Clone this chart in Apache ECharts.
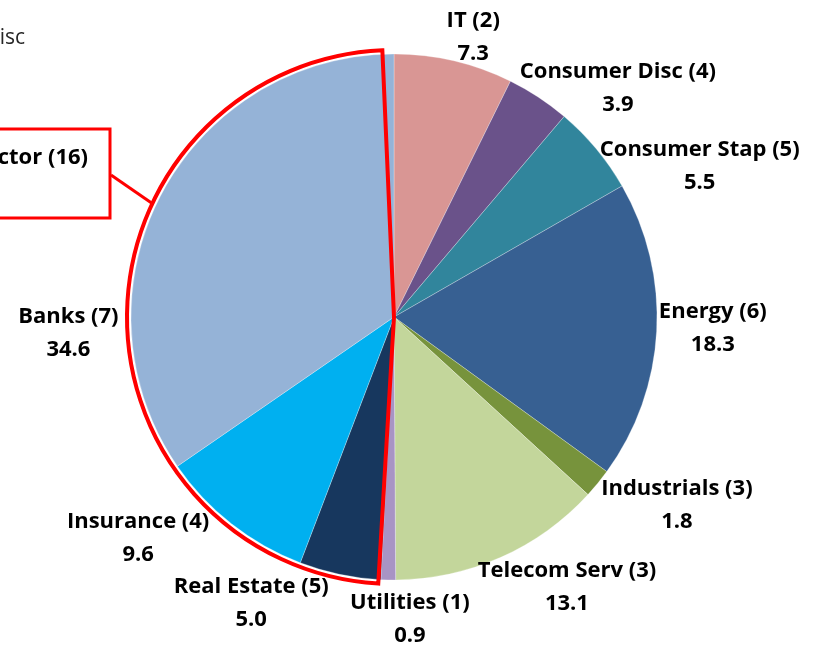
<!DOCTYPE html>
<html lang="en">
<head>
    <meta charset="utf-8">
    <title>Sector weights</title>
    <script src="https://cdn.jsdelivr.net/npm/echarts@6/dist/echarts.min.js"></script>
    <style>
        html, body { margin: 0; padding: 0; background: #fff; }
        #chart { width: 817px; height: 647px; }
    </style>
</head>
<body>
<div id="chart"></div>
<script type="text/javascript">
    // slices, clockwise from 12 o'clock
    var sectors = ['IT', 'Consumer Disc', 'Consumer Stap', 'Energy', 'Industrials',
        'Telecom Serv', 'Utilities', 'Real Estate', 'Insurance', 'Banks'];
    var counts = [2, 4, 5, 6, 3, 3, 1, 5, 4, 7];
    var weights = [7.3, 3.9, 5.5, 18.3, 1.8, 13.1, 0.9, 5.0, 9.6, 34.6];
    var financial = [false, false, false, false, false, false, false, true, true, true];
    var colors = ['#D99694', '#6A528A', '#31859C', '#376092', '#77933C',
        '#C3D69B', '#A894C4', '#17375E', '#00B0F0', '#95B3D7'];

    // where each label sits: [angle from top (deg, clockwise), distance from centre]
    var labelSpots = [[15.8, 291], [44.4, 320], [63.7, 341], [92.0, 319], [123.7, 340],
        [147.4, 321], [177.0, 303], [206.5, 320], [229.2, 338], [267.2, 326]];

    var cx = 394, cy = 317, R = 263;

    var myChart = echarts.init(document.getElementById('chart'), null, { renderer: 'canvas' });

    var finSum = 0, restSum = 0;
    weights.forEach(function (w, i) {
        if (financial[i]) finSum += w; else restSum += w;
    });

    var pieData = sectors.map(function (s, i) {
        return {
            name: s + ' (' + counts[i] + ')',
            value: weights[i],
            itemStyle: { color: colors[i] }
        };
    });

    var labelFont = '"Open Sans", "Noto Sans", sans-serif';

    var option = {
        animation: false,
        backgroundColor: '#fff',
        series: [{
            type: 'pie',
            center: [cx, cy],
            radius: [0, R],
            startAngle: 90,
            clockwise: true,
            silent: true,
            itemStyle: {
                borderColor: 'rgba(255,255,255,0.45)',
                borderWidth: 0.6
            },
            label: {
                show: true,
                position: 'outside',
                fontFamily: labelFont,
                fontWeight: 'bold',
                fontSize: 22,
                lineHeight: 33,
                color: '#000',
                align: 'center',
                width: 300,
                overflow: 'none',
                formatter: function (p) {
                    return p.name + '\n' + p.value.toFixed(1);
                }
            },
            labelLine: { show: false },
            labelLayout: function (params) {
                var s = labelSpots[params.dataIndex];
                var a = s[0] * Math.PI / 180;
                return {
                    x: cx + s[1] * Math.sin(a),
                    y: cy - s[1] * Math.cos(a),
                    align: 'center',
                    verticalAlign: 'middle'
                };
            },
            data: pieData
        }, {
            // red outline round the financial slices
            type: 'pie',
            center: [cx, cy],
            radius: [0, R + 4],
            startAngle: 91,
            padAngle: 3,
            clockwise: true,
            silent: true,
            label: { show: false },
            labelLine: { show: false },
            data: [
                { name: 'Other', value: restSum, itemStyle: { color: 'rgba(0,0,0,0)', borderWidth: 0 } },
                {
                    name: 'Financial Sector (16)', value: finSum,
                    itemStyle: { color: 'rgba(0,0,0,0)', borderColor: '#FF0000', borderWidth: 4, borderJoin: 'miter' }
                }
            ]
        }],
        graphic: [
            {
                type: 'text',
                x: 25, y: 38,
                style: {
                    text: 'Consumer Disc',
                    align: 'right',
                    verticalAlign: 'middle',
                    font: '21px ' + labelFont,
                    fill: '#262626'
                }
            },
            {
                type: 'rect',
                shape: { x: -160, y: 129, width: 270, height: 89 },
                style: { fill: '#fff', stroke: '#FF0000', lineWidth: 3 }
            },
            {
                type: 'text',
                x: 88, y: 158,
                style: {
                    text: 'Financial Sector (16)',
                    align: 'right',
                    verticalAlign: 'middle',
                    font: 'bold 22px ' + labelFont,
                    fill: '#000'
                }
            },
            {
                type: 'line',
                shape: { x1: 111, y1: 175, x2: 153, y2: 204 },
                style: { stroke: '#FF0000', lineWidth: 3 }
            }
        ]
    };

    myChart.setOption(option);

    window.onresize = function () {
        myChart.resize();
    };
</script>
</body>
</html>
